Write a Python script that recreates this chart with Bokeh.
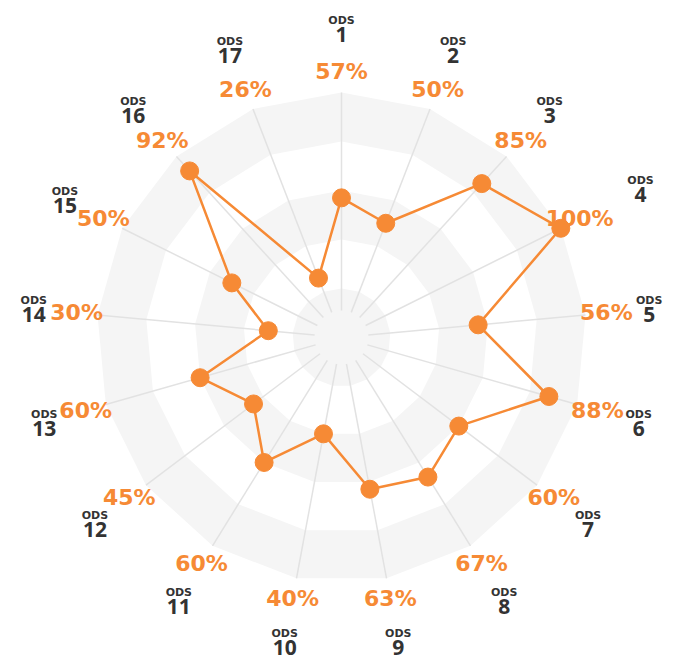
import numpy as np
from bokeh.plotting import figure
from bokeh.core.properties import value
from bokeh.embed import file_html
from bokeh.resources import INLINE

# ---- data ----
labels = [str(i) for i in range(1, 18)]
values = [57, 50, 85, 100, 56, 88, 60, 67, 63, 40, 60, 45, 60, 30, 50, 92, 26]
pct_labels = [f"{v}%" for v in values]

ORANGE = "#f68a35"
DARK = "#333333"
BAND = "#f5f5f5"
SPOKE = "#e2e2e2"

R = 245.0  # pixel radius for 100%
n = len(values)
theta = np.arange(n) * 2 * np.pi / n

W, H = 676, 662
CX, CY = 341, 337  # chart centre, px from top-left
p = figure(width=W, height=H, x_range=(-CX, W - CX), y_range=(-(H - CY), CY),
           output_backend="svg", toolbar_location=None, min_border=0)
p.axis.visible = False
p.grid.visible = False
p.outline_line_color = None
p.background_fill_color = "white"

# bands (17-gons)
for frac, col in [(1.0, BAND), (0.8, "white"), (0.6, BAND), (0.4, "white"), (0.2, BAND)]:
    p.patch(list(frac * R * np.sin(theta)), list(frac * R * np.cos(theta)),
            fill_color=col, line_color=None)

# spokes
r0 = 0.11 * R
p.segment(x0=r0 * np.sin(theta), y0=r0 * np.cos(theta),
          x1=R * np.sin(theta), y1=R * np.cos(theta),
          line_color=SPOKE, line_width=1.5)

# data line
rv = np.array(values) / 100.0 * R
xs = rv * np.sin(theta)
ys = rv * np.cos(theta)
p.line(list(xs) + [xs[0]], list(ys) + [ys[0]], line_color=ORANGE, line_width=2.5)
p.scatter(xs, ys, size=18, fill_color=ORANGE, line_color=ORANGE)

# percent labels
rp = 266.0
p.text(x=rp * np.sin(theta), y=rp * np.cos(theta), text=pct_labels,
       text_font=value("DejaVu Sans"), text_font_style="bold", text_font_size="22px",
       text_color=ORANGE, text_align="center", text_baseline="middle")

# ODS labels
rl = np.full(n, 309.0)
rl[3] = 334.0
lx = rl * np.sin(theta)
ly = rl * np.cos(theta)
p.text(x=lx, y=ly + 8, text=["ODS"] * n,
       text_font=value("DejaVu Sans"), text_font_style="bold", text_font_size="11px",
       text_color=DARK, text_align="center", text_baseline="middle")
p.text(x=lx, y=ly - 6, text=labels,
       text_font=value("Open Sans"), text_font_style="bold", text_font_size="21px",
       text_color=DARK, text_align="center", text_baseline="middle")

open("out.html", "w").write(file_html(p, INLINE))
